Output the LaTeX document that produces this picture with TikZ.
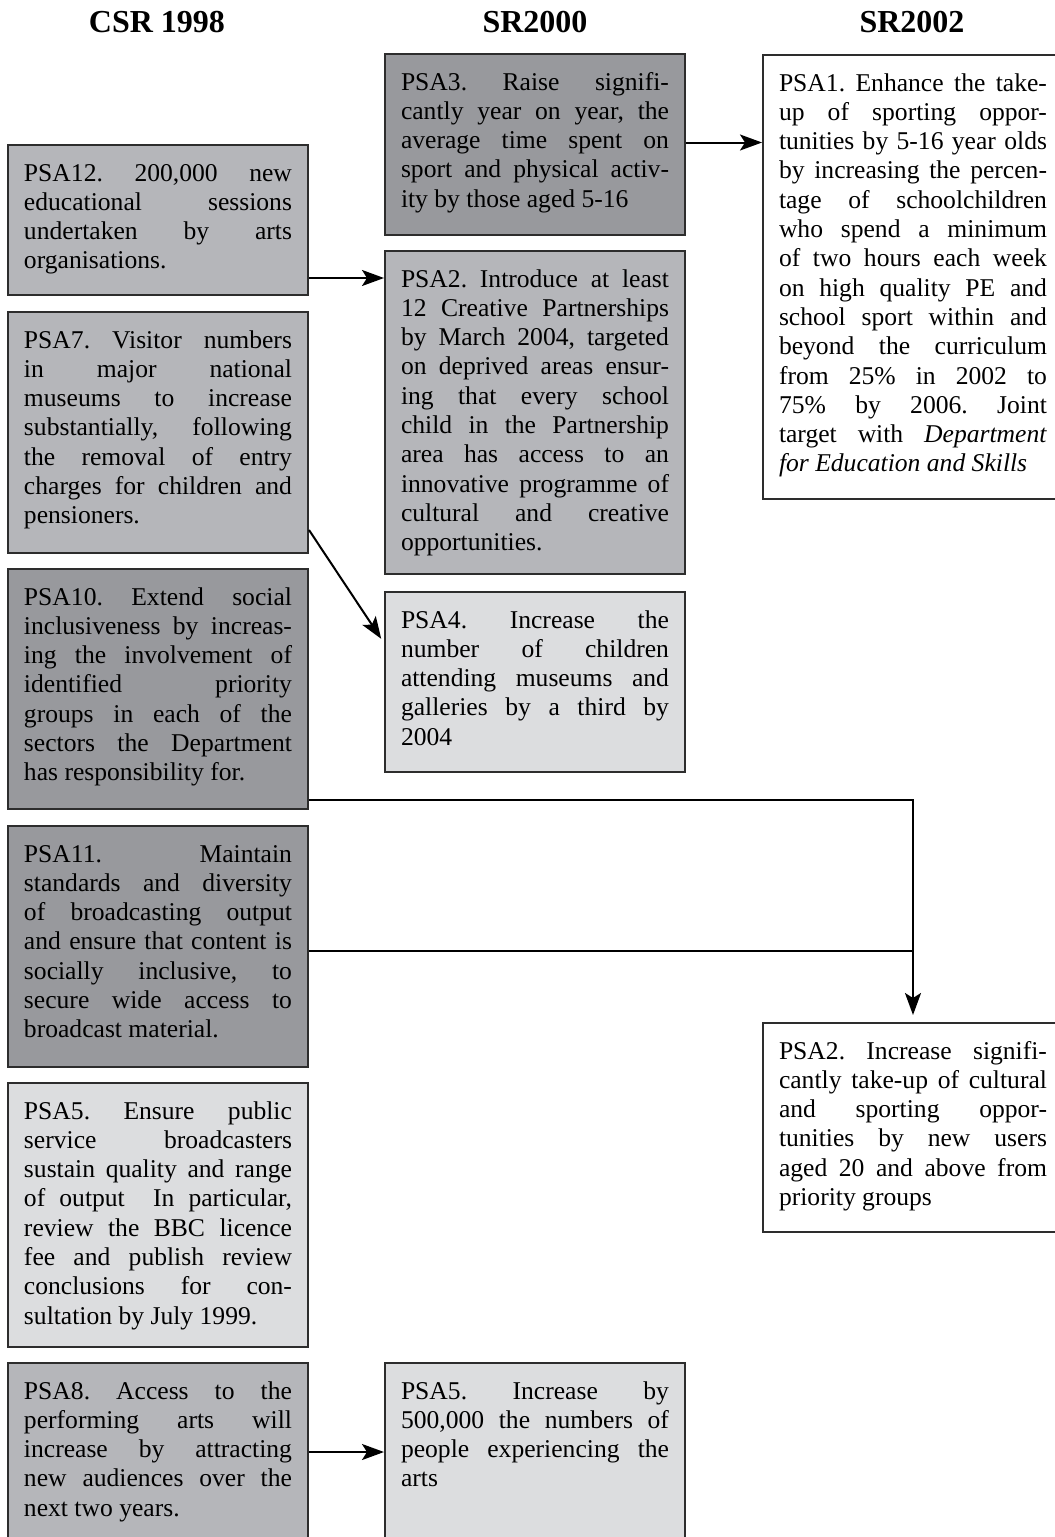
\documentclass[tikz,border=0pt]{standalone}
\usepackage{fontspec}
\setmainfont{Liberation Serif}
\usepackage{tikz}
\usetikzlibrary{arrows.meta}
\definecolor{BoxDark}{RGB}{152,153,157}
\definecolor{BoxMid}{RGB}{181,182,186}
\definecolor{BoxLight}{RGB}{220,221,223}
\definecolor{BoxEdge}{RGB}{45,45,45}
\frenchspacing

\begin{document}
\begin{tikzpicture}[x=0.5pt, y=-0.5pt,
    psa/.style={draw=BoxEdge, line width=1pt, fill=#1, anchor=north west,
      text width=134pt, align=justify, inner xsep=8pt, inner ysep=8pt,
      text height=10pt, font={\fontsize{12.8}{14.65}\selectfont\tolerance=10000}},
    head/.style={font={\fontsize{16}{19}\selectfont\bfseries}},
    link/.style={line width=1pt, draw=black, -{Stealth[length=11pt,width=8pt,inset=2.5pt]}}]
    \useasboundingbox (0,0) rectangle (1055,1537);
    \clip (0,0) rectangle (1055,1537);

    % Column heads
    \node[head] (hcsr) at (157,22) {CSR 1998};
    \node[head] (hsra) at (535,22) {SR2000};
    \node[head] (hsrb) at (912,22) {SR2002};

    % CSR 1998
    \node[psa=BoxMid, text depth=49pt] (csr12) at (7,144) {PSA12. 200,000 new\linebreak
      educational sessions\linebreak undertaken by arts\linebreak organisations.};
    \node[psa=BoxMid, text depth=94.5pt] (csr7) at (7,311) {PSA7. Visitor numbers\linebreak
      in major national\linebreak museums to increase\linebreak substantially, following\linebreak
      the removal of entry\linebreak charges for children and\linebreak pensioners.};
    \node[psa=BoxDark, text depth=94pt] (csr10) at (7,568) {PSA10. Extend social\linebreak
      inclusiveness by increas-\linebreak ing the involvement of\linebreak identified priority\linebreak
      groups in each of the\linebreak sectors the Department\linebreak has responsibility for.};
    \node[psa=BoxDark, text depth=94.5pt] (csr11) at (7,825) {PSA11. Maintain\linebreak
      standards and diversity\linebreak of broadcasting output\linebreak and ensure that content is\linebreak
      socially inclusive, to\linebreak secure wide access to\linebreak broadcast material.};
    \node[psa=BoxLight, text depth=106pt] (csr5) at (7,1082) {PSA5. Ensure public\linebreak
      service broadcasters\linebreak sustain quality and range\linebreak of output\ \ In particular,\linebreak
      review the BBC licence\linebreak fee and publish review\linebreak conclusions for con-\linebreak
      sultation by July 1999.};
    \node[psa=BoxMid, text depth=70pt] (csr8) at (7,1362) {PSA8. Access to the\linebreak
      performing arts will\linebreak increase by attracting\linebreak new audiences over the\linebreak
      next two years.};

    % SR2000
    \node[psa=BoxDark, text depth=64.5pt] (sra3) at (384,53) {PSA3. Raise signifi-\linebreak
      cantly year on year, the\linebreak average time spent on\linebreak sport and physical activ-\linebreak
      ity by those aged 5-16};
    \node[psa=BoxMid, text depth=135.5pt] (sra2) at (384,250) {PSA2. Introduce at least\linebreak
      12 Creative Partnerships\linebreak by March 2004, targeted\linebreak on deprived areas ensur-\linebreak
      ing that every school\linebreak child in the Partnership\linebreak area has access to an\linebreak
      innovative programme of\linebreak cultural and creative\linebreak opportunities.};
    \node[psa=BoxLight, text depth=64pt] (sra4) at (384,591) {PSA4. Increase the\linebreak
      number of children\linebreak attending museums and\linebreak galleries by a third by\linebreak 2004};
    \node[psa=BoxLight, text depth=70pt] (sra5) at (384,1362) {PSA5. Increase by\linebreak
      500,000 the numbers of\linebreak people experiencing the\linebreak arts};

    % SR2002
    \node[psa=white, text depth=196pt] (srb1) at (762,54) {PSA1. Enhance the take-\linebreak
      up of sporting oppor-\linebreak tunities by 5-16 year olds\linebreak by increasing the percen-\linebreak
      tage of schoolchildren\linebreak who spend a minimum\linebreak of two hours each week\linebreak
      on high quality PE and\linebreak school sport within and\linebreak beyond the curriculum\linebreak
      from 25\% in 2002 to\linebreak 75\% by 2006. Joint\linebreak target with \textit{Department}\linebreak
      \textit{for Education and Skills}};
    \node[psa=white, text depth=78.5pt] (srb2) at (762,1022) {PSA2. Increase signifi-\linebreak
      cantly take-up of cultural\linebreak and sporting oppor-\linebreak tunities by new users\linebreak
      aged 20 and above from\linebreak priority groups};

    % Links
    \draw[link] ([yshift=1pt]sra3.east) -- ([yshift=1pt]sra3.east -| srb1.west);
    \draw[link] ([yshift=9pt]csr12.south east) -- ([yshift=9pt]csr12.south east -| sra2.west);
    \draw[link, shorten >=2.5pt] ([yshift=12pt]csr7.south east) -- ([yshift=-26pt]sra4.north west);
    \draw[link, shorten >=3.5pt] ([yshift=5pt]csr10.south east) -| (srb2.north);
    \draw[line width=1pt] ([yshift=58.5pt]csr11.south east) -- ([yshift=58.5pt]csr11.south east -| srb2.north);
    \draw[link] ([yshift=-45pt]csr8.north east) -- ([yshift=-45pt]csr8.north east -| sra5.west);
\end{tikzpicture}
\end{document}
